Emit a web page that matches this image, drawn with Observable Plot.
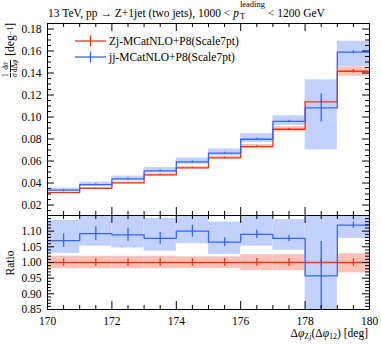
<!DOCTYPE html>
<html><head><meta charset="utf-8">
<script src="https://cdn.jsdelivr.net/npm/d3@7"></script>
<script src="https://cdn.jsdelivr.net/npm/@observablehq/plot@0.6"></script>
<style>
body{margin:0;background:#fff;}
#wrap{position:relative;width:381px;height:344px;overflow:hidden;font-family:"Liberation Serif","DejaVu Serif",serif;color:#000;background:#fff}
#wrap svg{position:absolute;left:0}
.title{position:absolute;left:48px;top:7px;font-size:11.5px;line-height:11px;white-space:nowrap}
.stack{display:inline-block;position:relative;width:29px;height:10px}
.stack .sup{position:absolute;left:1px;top:-6px;font-size:8.5px;line-height:7px}
.stack .sub{position:absolute;left:1px;top:5px;font-size:8.5px;line-height:8px}
.ylab{position:absolute;white-space:nowrap;font-size:11.5px;transform:translate(-50%,-50%) rotate(-90deg);display:flex;align-items:center}
.frac{display:inline-flex;flex-direction:column;text-align:center;font-size:7.5px;line-height:7.5px;margin-right:1px}
.frac span:first-child{border-bottom:0.6px solid #000}
.xlab{position:absolute;right:13px;top:328px;font-size:11.5px;line-height:11px;white-space:nowrap}
.xlab sub{font-size:8px;vertical-align:-2px;line-height:0}
.legend{position:absolute;left:75px;top:33px;font-size:11.5px}
.legend div{display:flex;align-items:center;height:16px;white-space:nowrap}
.legend svg{position:static !important;margin-right:3px}
</style>
</head><body>
<div id="wrap">
  <div class="title">13 TeV, pp → Z+1jet (two jets), 1000 &lt; <i>p</i><span class="stack"><span class="sup">leading</span><span class="sub">T</span></span>&lt; 1200 GeV</div>
  <div class="ylab" style="left:10px;top:50px"><span class="frac"><span>1</span><span><i>σ</i></span></span><span class="frac"><span>d<i>σ</i></span><span>dΔ<i>φ</i></span></span>&nbsp;[deg<sup style="font-size:8px">−1</sup>]</div>
  <div class="ylab" style="left:10px;top:263px">Ratio</div>
  <div class="xlab">Δ<i>φ</i><sub>Z<i>j</i></sub>(Δ<i>φ</i><sub>12</sub>) [deg]</div>
</div>
<script>
// ---- data ----
const binEdges = [170, 171, 172, 173, 174, 175, 176, 177, 178, 179, 180];
const seriesNames = ["Zj-MCatNLO+P8(Scale7pt)", "jj-MCatNLO+P8(Scale7pt)"];
const seriesColors = ["#EE3311", "#3366FF"];
const bandColors = ["#fac2b8", "#c2d1ff"];

const zjValues  = [0.0313, 0.0352, 0.0401, 0.0474, 0.0538, 0.0629, 0.0731, 0.0889, 0.1138, 0.1416];
const zjErrors  = [0.0004, 0.0004, 0.0005, 0.0006, 0.0006, 0.0007, 0.0009, 0.0010, 0.0013, 0.0016];
const zjBandLo  = [0.0306, 0.0345, 0.0393, 0.0464, 0.0528, 0.0618, 0.0712, 0.0866, 0.1108, 0.1370];
const zjBandHi  = [0.0320, 0.0359, 0.0409, 0.0484, 0.0548, 0.0640, 0.0750, 0.0912, 0.1168, 0.1456];

const jjValues  = [0.0336, 0.0385, 0.0437, 0.0511, 0.0592, 0.0671, 0.0798, 0.0961, 0.1083, 0.1589];
const jjErrors  = [0.0007, 0.0008, 0.0009, 0.0009, 0.0010, 0.0009, 0.0010, 0.0009, 0.0128, 0.0014];
const jjBandLo  = [0.0322, 0.0370, 0.0419, 0.0491, 0.0570, 0.0645, 0.0769, 0.0924, 0.0701, 0.1460];
const jjBandHi  = [0.0355, 0.0408, 0.0463, 0.0541, 0.0627, 0.0710, 0.0848, 0.1011, 0.1338, 0.1689];

const zjRatio      = [1, 1, 1, 1, 1, 1, 1, 1, 1, 1];
const zjRatioErr   = [0.012, 0.012, 0.012, 0.012, 0.012, 0.012, 0.012, 0.012, 0.012, 0.012];
const zjRatioLo    = [0.980, 0.980, 0.980, 0.980, 0.981, 0.981, 0.974, 0.974, 0.974, 0.967];
const zjRatioHi    = [1.020, 1.020, 1.020, 1.020, 1.018, 1.018, 1.025, 1.025, 1.025, 1.028];

const jjRatio      = [1.070, 1.092, 1.088, 1.077, 1.100, 1.065, 1.090, 1.077, 0.957, 1.119];
const jjRatioErr   = [0.022, 0.022, 0.021, 0.019, 0.019, 0.014, 0.013, 0.010, 0.110, 0.010];
const jjRatioLo    = [1.029, 1.052, 1.046, 1.036, 1.060, 1.026, 1.052, 1.039, 0.616, 1.077];
const jjRatioHi    = [1.134, 1.165, 1.155, 1.141, 1.165, 1.129, 1.160, 1.137, 1.176, 1.193];

const mainYTicks  = [0.02, 0.04, 0.06, 0.08, 0.1, 0.12, 0.14, 0.16, 0.18];
const ratioYTicks = [0.85, 0.9, 0.95, 1, 1.05, 1.1];
const xTicks      = [170, 172, 174, 176, 178, 180];

// ---- helpers ----
const W = 381, ML = 47, MR = 12;
const innerW = W - ML - MR;
const FONT = "'Liberation Serif', 'DejaVu Serif', serif";

function binRows(vals, errs, lo, hi) {
  return vals.map((v, i) => ({x1: binEdges[i], x2: binEdges[i + 1], xc: (binEdges[i] + binEdges[i + 1]) / 2,
    y: v, e1: v - errs[i], e2: v + errs[i], lo: lo[i], hi: hi[i]}));
}
function stepRows(vals) {
  return binEdges.map((e, i) => ({x: e, y: vals[Math.min(i, vals.length - 1)]}));
}
const xMinor = d3.range(341, 360).map(i => i / 2).filter(v => v % 2 !== 0);

function frameTicks(yMajor, yMinor, innerH) {
  return [
    Plot.tickY(yMajor, {y: d => d, insetRight: innerW - 7, stroke: "#000"}),
    Plot.tickY(yMajor, {y: d => d, insetLeft: innerW - 7, stroke: "#000"}),
    Plot.tickY(yMinor, {y: d => d, insetRight: innerW - 4, stroke: "#000"}),
    Plot.tickY(yMinor, {y: d => d, insetLeft: innerW - 4, stroke: "#000"}),
    Plot.tickX(xTicks, {x: d => d, insetBottom: innerH - 8, stroke: "#000"}),
    Plot.tickX(xTicks, {x: d => d, insetTop: innerH - 8, stroke: "#000"}),
    Plot.tickX(xMinor, {x: d => d, insetBottom: innerH - 4, stroke: "#000"}),
    Plot.tickX(xMinor, {x: d => d, insetTop: innerH - 4, stroke: "#000"})
  ];
}

function seriesMarks(sets) {
  const marks = [];
  sets.forEach((s, k) => {
    marks.push(Plot.rect(s.rows, {x1: "x1", x2: "x2", y1: "lo", y2: "hi", fill: bandColors[k], clip: true}));
  });
  sets.forEach((s, k) => {
    marks.push(Plot.line(s.steps, {x: "x", y: "y", curve: "step-after", stroke: seriesColors[k], strokeWidth: 1.3, clip: true}));
    marks.push(Plot.ruleX(s.rows, {x: "xc", y1: "e1", y2: "e2", stroke: seriesColors[k], strokeWidth: 1.3, clip: true}));
  });
  return marks;
}

// ---- main panel ----
const mainH = 204, mainTop = 16, mainMT = 7, mainMB = 5;
const mainInnerH = mainH - mainMT - mainMB;
const mainMinor = d3.range(3, 38).filter(i => i % 4 !== 0).map(i => i * 0.005);
const mainSets = [
  {rows: binRows(zjValues, zjErrors, zjBandLo, zjBandHi), steps: stepRows(zjValues)},
  {rows: binRows(jjValues, jjErrors, jjBandLo, jjBandHi), steps: stepRows(jjValues)}
];
const mainPlot = Plot.plot({
  width: W, height: mainH, marginLeft: ML, marginRight: MR, marginTop: mainMT, marginBottom: mainMB,
  x: {domain: [170, 180], axis: null},
  y: {domain: [0.0105, 0.185]},
  style: {background: "transparent", fontFamily: FONT, fontSize: "11.5px", overflow: "visible"},
  marks: [
    ...seriesMarks(mainSets),
    ...frameTicks(mainYTicks, mainMinor, mainInnerH),
    Plot.axisY({ticks: mainYTicks, tickSize: 0, tickPadding: 6, label: null}),
    Plot.frame({stroke: "#000"})
  ]
});
mainPlot.style.top = mainTop + "px";

// ---- ratio panel ----
const ratioH = 134, ratioTop = 210, ratioMT = 5, ratioMB = 35;
const ratioInnerH = ratioH - ratioMT - ratioMB;
const ratioMinor = d3.range(86, 115).filter(i => i % 5 !== 0).map(i => i / 100);
const ratioSets = [
  {rows: binRows(zjRatio, zjRatioErr, zjRatioLo, zjRatioHi), steps: stepRows(zjRatio)},
  {rows: binRows(jjRatio, jjRatioErr, jjRatioLo, jjRatioHi), steps: stepRows(jjRatio)}
];
const ratioPlot = Plot.plot({
  width: W, height: ratioH, marginLeft: ML, marginRight: MR, marginTop: ratioMT, marginBottom: ratioMB,
  x: {domain: [170, 180]},
  y: {domain: [0.85, 1.15]},
  style: {background: "transparent", fontFamily: FONT, fontSize: "11.5px", overflow: "visible"},
  marks: [
    ...seriesMarks(ratioSets),
    ...frameTicks(ratioYTicks, ratioMinor, ratioInnerH),
    Plot.axisY({ticks: ratioYTicks, tickSize: 0, tickPadding: 6, label: null}),
    Plot.axisX({ticks: xTicks, tickSize: 0, tickPadding: 7, label: null}),
    Plot.frame({stroke: "#000"})
  ]
});
ratioPlot.style.top = ratioTop + "px";

const wrap = document.getElementById("wrap");
wrap.appendChild(mainPlot);
wrap.appendChild(ratioPlot);

// ---- legend ----
const legend = document.createElement("div");
legend.className = "legend";
seriesNames.forEach((name, k) => {
  const row = document.createElement("div");
  const sw = d3.create("svg").attr("width", 31).attr("height", 12);
  sw.append("line").attr("x1", 0).attr("x2", 31).attr("y1", 6).attr("y2", 6)
    .attr("stroke", seriesColors[k]).attr("stroke-width", 1.3);
  sw.append("line").attr("x1", 15.5).attr("x2", 15.5).attr("y1", 0.5).attr("y2", 11.5)
    .attr("stroke", seriesColors[k]).attr("stroke-width", 1.3);
  row.appendChild(sw.node());
  const t = document.createElement("span");
  t.textContent = name;
  row.appendChild(t);
  legend.appendChild(row);
});
wrap.appendChild(legend);
</script>
</body></html>
